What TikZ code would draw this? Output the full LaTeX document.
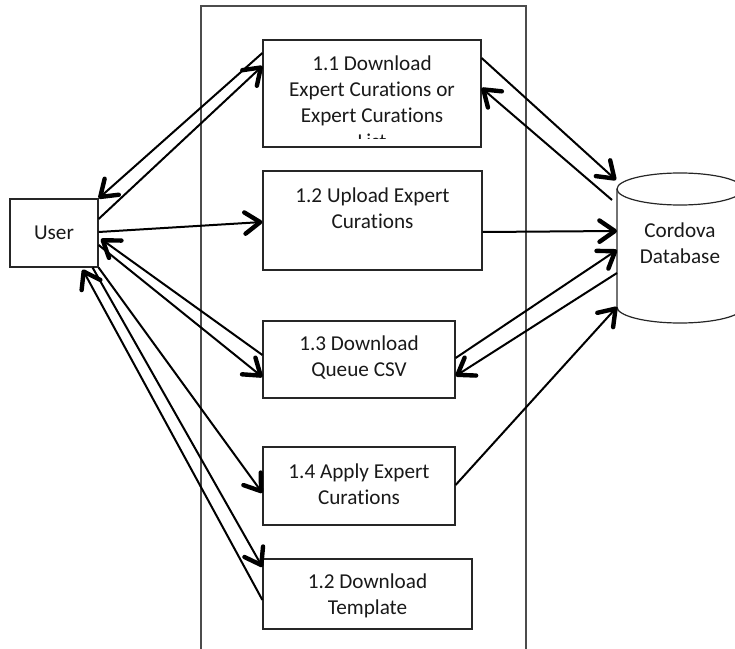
\documentclass[tikz,border=0pt]{standalone}
\usepackage{fontspec}
\setmainfont{Carlito}[Ligatures=CommonOff]
\usetikzlibrary{arrows.meta,fit,calc}
\begin{document}
\begin{tikzpicture}[x=0.75pt,y=-0.75pt,
  box/.style={draw=black!85, line width=0.9pt, inner sep=0pt},
  lbl/.style={font=\fontsize{15.9}{19.5}\selectfont, align=center, inner sep=0pt, anchor=north, text=black!90},
  conn/.style={draw=black, line width=1.5pt, -{Straight Barb[length=11.5pt,width=16pt,line width=3.3pt,round]}},
  frame/.style={draw=black!70, line width=1pt}
]
\useasboundingbox (0,0) rectangle (735,649);

% outer frame (open at bottom)
\draw[frame] (201,700) -- (201,6) -- (526,6) -- (526,700);

% boxes
\node[box, fit={(10,199) (98,267)}] (user) {};
\node[lbl, anchor=base] (tuser) at (54,239) {User};

\node[box, fit={(263,40) (481,147)}] (b11) {};
\begin{scope}
  \clip (263,40) rectangle (481,138.5);
  \node[lbl] (t11) at (372,52.3) {\strut 1.1 Download\\\strut Expert Curations or\\\strut Expert Curations\\\strut List};
\end{scope}

\node[box, fit={(263,171) (482,270)}] (b12) {};
\node[lbl] (t12) at (372.5,183.8) {\strut 1.2 Upload Expert\\\strut Curations};

\node[box, fit={(263,321) (455,398)}] (b13) {};
\node[lbl] (t13) at (359,331.8) {\strut 1.3 Download\\\strut Queue CSV};

\node[box, fit={(263,447) (455,525)}] (b14) {};
\node[lbl] (t14) at (359,459.8) {\strut 1.4 Apply Expert\\\strut Curations};

\node[box, fit={(263,559) (472,629)}] (bt) {};
\node[lbl] (tt) at (367.5,569.8) {\strut 1.2 Download\\\strut Template};

% database cylinder
\draw[draw=black!85, line width=0.9pt] (617,189) -- (617,307) arc[start angle=180, end angle=0, x radius=63, y radius=16] -- (743,189);
\draw[draw=black!85, line width=0.9pt] (680,189) ellipse [x radius=63, y radius=16];
\node[lbl] (db) at (680,219.5) {\strut Cordova\\\strut Database};

\coordinate (d1) at (616,180);
\coordinate (d2) at (612,200);
\coordinate (d3) at (617,231);
\coordinate (d4) at (617,250);
\coordinate (d5) at (617,273);
\coordinate (d6) at (617,307);
\coordinate (u1) at (101,239);

% connectors
\draw[conn] (b11.west |- 0,53) -- (user.north east);
\draw[conn] (user.east |- 0,219) -- (b11.west |- 0,66);
\draw[conn] (b11.east |- 0,58) -- (d1);
\draw[conn] (d2) -- (b11.east |- 0,88);
\draw[conn] (user.east |- 0,232) -- (b12.west |- 0,222);
\draw[conn] (b12.east |- 0,232) -- (d3);
\draw[conn] (b13.west |- 0,355) -- (u1);
\draw[conn] (user.east |- 0,245) -- (b13.west |- 0,377);
\draw[conn] (b13.east |- 0,358) -- (d4);
\draw[conn] (d5) -- (b13.east |- 0,376);
\draw[conn] (b14.east |- 0,485) -- (d6);
\draw[conn] (user.south east) -- (b14.west |- 0,493);
\draw[conn] ($(user.south east)+(-6,0)$) -- (bt.west |- 0,567);
\draw[conn] (bt.west |- 0,600) -- ($(user.south east)+(-16,2)$);
\end{tikzpicture}
\end{document}
